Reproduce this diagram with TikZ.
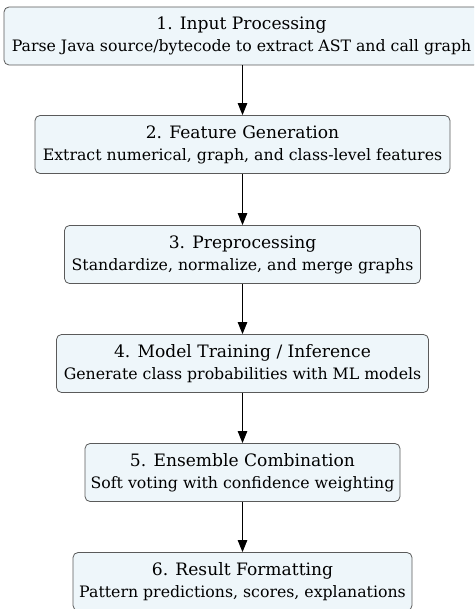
\documentclass[tikz,border=0pt]{standalone}
\usepackage{fontspec}
\setmainfont{DejaVu Serif}
\usetikzlibrary{arrows.meta}
\definecolor{boxfill}{HTML}{EEF6FA}
\definecolor{boxline}{HTML}{5A5A5A}
\tikzset{
  stepbox/.style={draw=boxline, fill=boxfill, line width=0.8pt, rounded corners=5pt,
    minimum height=58pt, inner sep=0pt, align=center,
    font=\fontsize{15.75}{22}\selectfont},
  flow/.style={-{Triangle[length=12pt,width=9.5pt]}, line width=0.9pt, black},
}
\newcommand{\steptitle}[1]{{\fontsize{17.1}{22}\selectfont #1}}
\begin{document}
\begin{tikzpicture}[x=1pt,y=1pt]
\useasboundingbox (0,0) rectangle (474,-609);
\clip (0,0) rectangle (474,-609);
\node[stepbox, minimum width=475pt] (b1) at (241.5,-36)
  {\steptitle{1. Input Processing}\\Parse Java source/bytecode to extract AST and call graph};
\node[stepbox, minimum width=415pt] (b2) at (242.5,-144.5)
  {\steptitle{2. Feature Generation}\\Extract numerical, graph, and class-level features};
\node[stepbox, minimum width=356pt] (b3) at (242.5,-254.5)
  {\steptitle{3. Preprocessing}\\Standardize, normalize, and merge graphs};
\node[stepbox, minimum width=372pt] (b4) at (242.5,-363.5)
  {\steptitle{4. Model Training / Inference}\\Generate class probabilities with ML models};
\node[stepbox, minimum width=315pt] (b5) at (242.5,-472.5)
  {\steptitle{5. Ensemble Combination}\\Soft voting with confidence weighting};
\node[stepbox, minimum width=339pt] (b6) at (242.5,-581.5)
  {\steptitle{6. Result Formatting}\\Pattern predictions, scores, explanations};
\draw[flow] (b1.south -| b2.north) -- (b2.north);
\draw[flow] (b2) -- (b3);
\draw[flow] (b3) -- (b4);
\draw[flow] (b4) -- (b5);
\draw[flow] (b5) -- (b6);
\end{tikzpicture}
\end{document}
